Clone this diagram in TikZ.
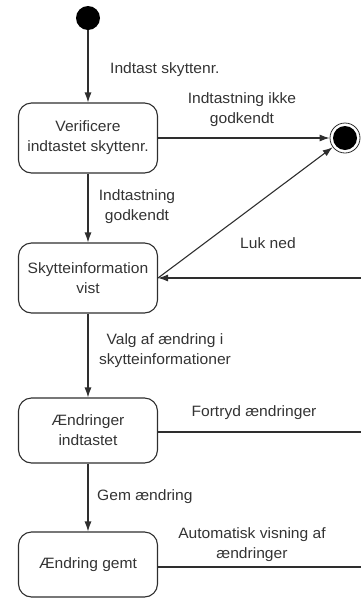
\documentclass[tikz,border=0pt]{standalone}
\usepackage{fontspec}
\setmainfont{Liberation Sans}[FakeStretch=1.04]
\usetikzlibrary{arrows.meta}
\definecolor{ink}{HTML}{2E2E2E}
\definecolor{txt}{HTML}{333333}
\begin{document}
\begin{tikzpicture}[x=1pt,y=-1pt,
  every node/.style={text=txt, font=\fontsize{15}{20}\selectfont},
  state/.style={draw=ink, line width=1.1pt, rounded corners=13pt,
    minimum width=139pt, align=center, inner sep=0pt},
  trans/.style={draw=ink, line width=1.1pt, -{Latex[length=10pt,width=7pt]}},
  plain/.style={draw=ink, line width=1.1pt},
  lbl/.style={align=center, inner sep=0pt}]
\useasboundingbox (0,0) rectangle (361,598);

% states
\node[circle, fill=black, minimum size=24pt, inner sep=0pt] (init) at (88,18) {};
\node[state, minimum height=70pt] (ver) at (88,138) {Verificere\\indtastet skyttenr.};
\node[state, minimum height=70pt] (vis) at (88,278) {Skytteinformation\\vist};
\node[state, minimum height=65pt] (aen) at (88,430.5) {Ændringer\\indtastet};
\node[state, minimum height=65pt] (gem) at (88,564.5) {Ændring gemt};
\node[circle, draw=ink, line width=0.8pt, fill=white, minimum size=30pt, inner sep=0pt] (fin) at (345,138) {};
\fill[black] (fin.center) circle (12pt);

% loose ends at the right border
\coordinate (luk) at (361,278);
\coordinate (fortryd) at (361,432);
\coordinate (auto) at (361,567);

% transitions
\draw[trans] (init) -- (ver);
\draw[trans] (ver) -- (fin);
\draw[trans] (ver) -- (vis);
\draw[trans] (vis.east) -- (fin);
\draw[trans] (luk) -- (vis.east);
\draw[trans] (vis) -- (aen);
\draw[plain] (aen.east |- fortryd) -- (fortryd);
\draw[trans] (aen) -- (gem);
\draw[plain] (gem.east |- auto) -- (auto);

% transition labels
\node[lbl, anchor=base west] (l1) at (110,73) {Indtast skyttenr.};
\node[lbl] (l2) at (242,110) {Indtastning ikke\\godkendt};
\node[lbl] (l3) at (137,207) {Indtastning\\godkendt};
\node[lbl] (l4) at (268,243) {Luk ned};
\node[lbl] (l5) at (165,351) {Valg af ændring i\\skytteinformationer};
\node[lbl] (l6) at (254,413) {Fortryd ændringer};
\node[lbl, anchor=base west] (l7) at (97,500) {Gem ændring};
\node[lbl] (l8) at (252,545) {Automatisk visning af\\ændringer};
\end{tikzpicture}
\end{document}
